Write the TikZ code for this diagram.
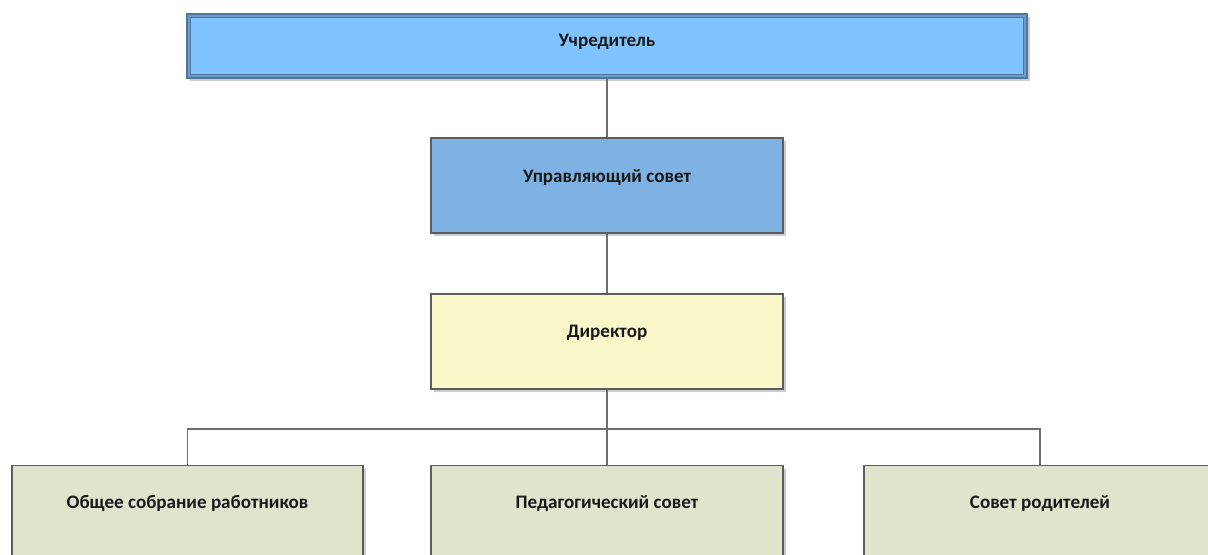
\documentclass[tikz,border=0pt]{standalone}
\usepackage{fontspec}
\setmainfont{Carlito}
\usetikzlibrary{shadows}
\definecolor{topfill}{HTML}{80C4FF}
\definecolor{topedge}{HTML}{52769A}
\definecolor{topmid}{HTML}{6C9CC8}
\definecolor{ufill}{HTML}{7EB2E2}
\definecolor{dfill}{HTML}{FAF8CA}
\definecolor{bfill}{HTML}{E0E4CC}
\definecolor{edgec}{HTML}{5C5C5C}
\definecolor{connc}{HTML}{6E6E6E}
\begin{document}
\begin{tikzpicture}[x=0.75pt,y=-0.75pt,
  box/.style={rectangle, draw=edgec, line width=1.1pt, inner sep=0pt,
    minimum width=264pt, minimum height=71.25pt,
    general shadow={fill=black!20, shadow xshift=2.2pt, shadow yshift=-2.2pt}},
  lbl/.style={font=\bfseries\fontsize{14.3}{17}\selectfont, text=black!90, inner sep=0pt, anchor=base},
  connector/.style={draw=connc, line width=1.1pt}]
\useasboundingbox (0,0) rectangle (1208,554);
\clip (0,0) rectangle (1208,554);

% connectors
\coordinate (bus) at (607,429);

% boxes
\node[box, draw=topedge, fill=topmid, line width=1.5pt, minimum width=630pt, minimum height=48pt] (top) at (607,46) {};
\node[rectangle, draw=topedge, fill=topfill, line width=0.8pt, inner sep=0pt, minimum width=624.75pt, minimum height=42.75pt] (topin) at (607,46) {};
\node[box, fill=ufill] (usov) at (607,185.5) {};
\node[box, fill=dfill] (dir) at (607,341.5) {};
\node[box, fill=bfill, minimum width=263.25pt, minimum height=80pt] (b1) at (187.5,519) {};
\node[box, fill=bfill, minimum height=80pt] (b2) at (607,519) {};
\node[box, fill=bfill, minimum height=80pt] (b3) at (1040,519) {};

\draw[connector] (top.south) -- (usov.north);
\draw[connector] (usov.south) -- (dir.north);
\draw[connector] (dir.south) -- (b2.north);
\draw[connector] (b1.north) |- (bus) -| (b3.north);

% labels
\node[lbl] (t0) at (607,46) {Учредитель};
\node[lbl] (t1) at (607,182) {Управляющий совет};
\node[lbl] (t2) at (607,337) {Директор};
\node[lbl] (t3) at (187.5,508) {Общее собрание работников};
\node[lbl] (t4) at (607,508) {Педагогический совет};
\node[lbl] (t5) at (1040,508) {Совет родителей};
\end{tikzpicture}
\end{document}
